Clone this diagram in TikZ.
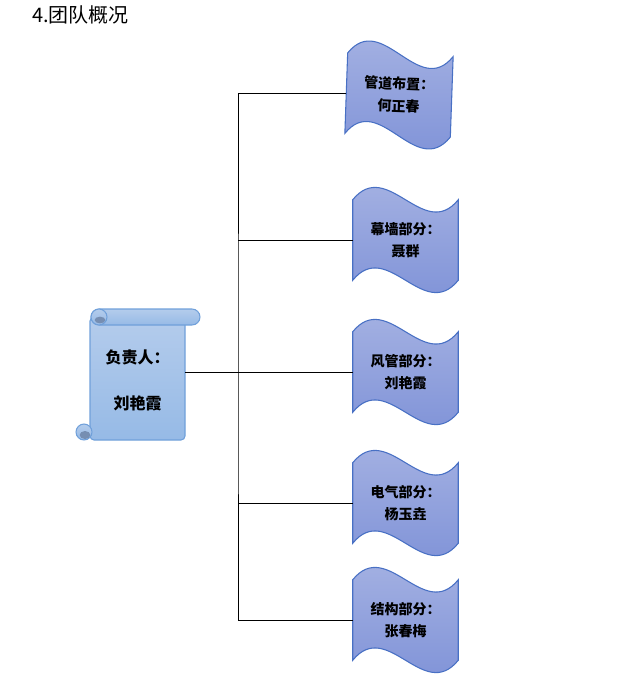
\documentclass[tikz,border=0pt]{standalone}
\usepackage{fontspec}
\setmainfont{Noto Sans CJK SC}
\usetikzlibrary{positioning,backgrounds}
\definecolor{wavetop}{RGB}{170,182,228}
\definecolor{wavebot}{RGB}{122,142,214}
\definecolor{waveline}{RGB}{72,112,196}
\definecolor{scrolltop}{RGB}{180,204,236}
\definecolor{scrollbot}{RGB}{150,186,230}
\definecolor{scrollline}{RGB}{112,160,218}
\definecolor{curl}{RGB}{118,142,178}
\begin{document}
\begin{tikzpicture}[x=0.75pt,y=-0.75pt,
 part/.style={align=center,minimum width=78.75pt,minimum height=60pt,inner sep=0pt,font=\fontsize{10.5}{17}\selectfont\bfseries},
 wave/.style={draw=waveline,line width=0.8pt,top color=wavetop,bottom color=wavebot},
 scrl/.style={draw=scrollline,line width=0.8pt,top color=scrolltop,bottom color=scrollbot},
 branch/.style={line width=0.7pt}]
\useasboundingbox (0,0) rectangle (635,699);
\node[anchor=west,inner sep=0pt,font=\fontsize{15}{18}\selectfont] (title) at (32,15) {4.团队概况};
% scroll
\draw[scrl,rounded corners=3pt] (90,317) -- (90,440) -- (185,440) -- (185,317) -- cycle;
\draw[scrl,rounded corners=6pt] (91,309) rectangle (200,325);
\draw[scrl] (99,317) circle (6pt);
\fill[curl] (100,320) ellipse (4pt and 2.5pt);
\draw[scrl] (84,432) circle (6pt);
\fill[curl] (85,435) ellipse (4pt and 3pt);
\node[font=\fontsize{12}{16}\selectfont\bfseries,align=center,minimum width=71.25pt,inner sep=0pt] (lead) at (137.5,380) {负责人：\\[18.5pt]刘艳霞};
% parts
\node[part,rotate=-2] (pipe) at (399,95) {管道布置：\\何正春};
\node[part] (curtain) at (405.5,240) {幕墙部分：\\聂群};
\node[part] (duct) at (405.5,372) {风管部分：\\刘艳霞};
\node[part] (elec) at (405.5,503) {电气部分：\\杨玉垚};
\node[part] (struct) at (405.5,620) {结构部分：\\张春梅};
\begin{scope}[on background layer]
\foreach \n in {pipe,curtain,duct,elec,struct}
 \draw[wave] (\n.north west) .. controls +(26pt,32pt) and +(-26pt,-32pt) .. (\n.north east) -- (\n.south east) .. controls +(-26pt,-32pt) and +(26pt,32pt) .. (\n.south west) -- cycle;
\end{scope}
% tree
\coordinate (trunk) at (238,371);
\draw[branch] (lead.east |- duct.west) -- (duct.west);
\draw[branch] (pipe.west) -| (trunk) |- (struct.west);
\draw[branch] (trunk |- curtain.west) -- (curtain.west);
\draw[branch] (trunk |- elec.west) -- (elec.west);
\end{tikzpicture}
\end{document}
